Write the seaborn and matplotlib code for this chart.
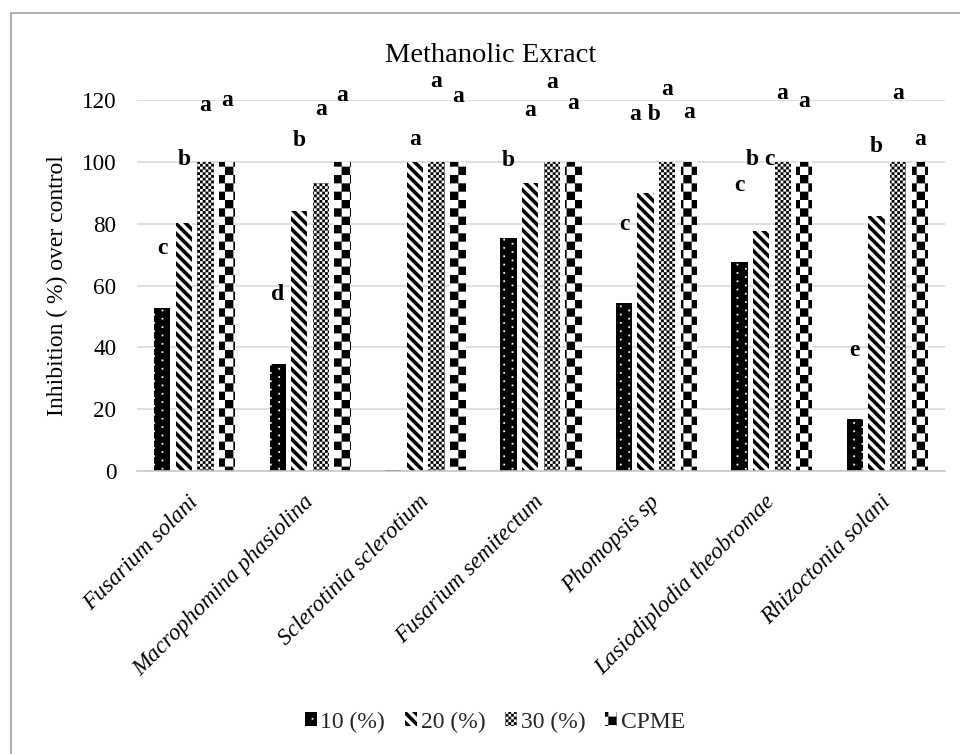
import numpy as np
import pandas as pd
import matplotlib
matplotlib.use("Agg")
import matplotlib.pyplot as plt
import matplotlib.hatch as mhatch
from matplotlib.path import Path
from matplotlib.patches import Rectangle
import seaborn as sns

# ---------------- data ----------------
fungi = ["Fusarium solani", "Macrophomina phasiolina", "Sclerotinia sclerotium",
         "Fusarium semitectum", "Phomopsis sp", "Lasiodiplodia theobromae",
         "Rhizoctonia solani"]
series = ["10 (%)", "20 (%)", "30 (%)", "CPME"]

conc_10 = [52.6, 34.5, 0.3, 75.4, 54.3, 67.7, 16.8]
conc_20 = [80.2, 84.2, 100.0, 93.0, 89.9, 77.5, 82.4]
conc_30 = [100.0, 93.1, 100.0, 100.0, 100.0, 100.0, 100.0]
cpme = [100.0, 100.0, 100.0, 100.0, 100.0, 100.0, 100.0]

letters_10 = ["c", "d", "", "b", "c", "c", "e"]
letters_20 = ["b", "b", "a", "a", "a b", "b c", "b"]
letters_30 = ["a", "a", "a", "a", "a", "a", "a"]
letters_cpme = ["a", "a", "a", "a", "a", "a", "a"]

label_y_10 = [72.0, 57.0, 0.0, 100.5, 79.7, 92.3, 39.0]
label_y_20 = [100.6, 107.0, 107.1, 116.5, 115.4, 100.9, 104.8]
label_y_30 = [118.1, 117.0, 125.9, 125.6, 123.4, 122.2, 122.2]
label_y_cpme = [119.9, 121.5, 121.0, 118.8, 115.9, 119.5, 107.1]

values = [conc_10, conc_20, conc_30, cpme]
letters = [letters_10, letters_20, letters_30, letters_cpme]
label_ys = [label_y_10, label_y_20, label_y_30, label_y_cpme]

df = pd.DataFrame({
    "fungus": np.repeat([fungi], len(series), axis=0).ravel(),
    "series": np.repeat(series, len(fungi)),
    "value": np.concatenate(values),
})

# ---------------- custom Excel-like fill patterns ----------------
def _rects(centers, hx, hy):
    verts, codes = [], []
    for cx, cy in centers:
        verts += [(cx - hx, cy - hy), (cx + hx, cy - hy), (cx + hx, cy + hy),
                  (cx - hx, cy + hy), (cx - hx, cy - hy)]
        codes += [Path.MOVETO, Path.LINETO, Path.LINETO, Path.LINETO, Path.CLOSEPOLY]
    return verts, codes


class _Custom(mhatch.HatchPatternBase):
    char = "?"

    def __init__(self, hatch, density):
        if hatch.count(self.char):
            self.v, self.c = self.build()
        else:
            self.v, self.c = [], []
        self.num_vertices = len(self.v)

    def set_vertices_and_codes(self, vertices, codes):
        vertices[:] = np.asarray(self.v, float)
        codes[:] = np.asarray(self.c, dtype=codes.dtype)


class Dots(_Custom):            # white dots on black
    char = "."

    def build(self):
        n = 12
        cs = [((k + 0.5) / n, (j + 0.25 + 0.5 * (k % 2)) / n)
              for k in range(n) for j in range(n)]
        return _rects(cs, 0.0085, 0.0085)


class Checker(_Custom):         # large checkerboard
    char = "O"
    n = 12

    def build(self):
        n = self.n
        cs = [((c + 0.5) / n, (r + 0.5) / n)
              for r in range(n) for c in range(n) if (r + c) % 2 == 0]
        return _rects(cs, 0.5 / n, 0.5 / n)


class SmallChecker(Checker):    # small checkerboard
    char = "*"
    n = 36


class Stripes(_Custom):         # wide downward diagonal
    char = "\\"

    def build(self):
        n = 10
        w = 0.5 / n
        verts, codes = [], []
        for k in range(-2, 2 * n + 3):
            c = k / n
            verts += [(-1, c + 1), (2, c - 2), (2, c + w - 2), (-1, c + w + 1), (-1, c + 1)]
            codes += [Path.MOVETO, Path.LINETO, Path.LINETO, Path.LINETO, Path.CLOSEPOLY]
        return verts, codes


mhatch._hatch_types[:] = [Dots, Stripes, SmallChecker, Checker]

# ---------------- figure ----------------
sns.set_style("white")
plt.rcParams["font.family"] = ["Liberation Serif", "DejaVu Serif"]
plt.rcParams["hatch.linewidth"] = 0.05

W, H = 960, 754
fig = plt.figure(figsize=(W / 100, H / 100), dpi=100)
ax = fig.add_axes([137 / W, 1 - 471 / H, 808 / W, 371 / H])

sns.barplot(data=df, x="fungus", y="value", hue="series", order=fungi,
            hue_order=series, palette=["black", "white", "white", "white"],
            width=0.75, gap=0.25, legend=False, ax=ax)

styles = [("black", "white", "."), ("white", "black", "\\"),
          ("white", "black", "*"), ("white", "black", "O")]
for cont, (fc, hc, hp) in zip(ax.containers, styles):
    for p in cont:
        p.set_facecolor(fc)
        p.set_edgecolor(hc)
        p.set_linewidth(0)
        p.set_hatch(hp)

# significance letters
for s, cont in enumerate(ax.containers):
    for i, p in enumerate(cont):
        lab = letters[s][i]
        if not lab:
            continue
        ax.text(p.get_x() + p.get_width() / 2, label_ys[s][i], lab,
                ha="center", va="center", fontsize=17, fontweight="bold",
                color="black", clip_on=False)

ax.set_ylim(0, 120)
ax.set_yticks(np.arange(0, 121, 20))
ax.yaxis.grid(True, color="#d9d9d9", linewidth=1.2)
ax.xaxis.grid(False)
ax.set_axisbelow(True)
for side in ["left", "right", "top"]:
    ax.spines[side].set_visible(False)
ax.spines["bottom"].set_color("#c8c8c8")
ax.spines["bottom"].set_linewidth(1.2)

ax.tick_params(axis="y", length=0, pad=15, labelsize=16.7, labelcolor="black")
ax.tick_params(axis="x", length=0, pad=20, labelsize=16.7, labelcolor="black")
ax.set_xticks(range(len(fungi)))
ax.set_xticklabels(fungi, rotation=45, ha="right", va="center",
                   rotation_mode="anchor", style="italic")
ax.set_xlabel("")
ax.set_ylabel("Inhibition ( %) over control", fontsize=17, color="black")
ax.yaxis.label.set_va("center")
ax.yaxis.set_label_coords((57 - 137) / 808, 0.5)

fig.text(491 / W, 1 - 55.5 / H, "Methanolic Exract", ha="center", va="center",
         fontsize=20.5, color="black")

fig.legend(handles=list(ax.containers), labels=series, loc="center",
           bbox_to_anchor=(495 / W, 1 - 722 / H), ncol=4, frameon=False,
           fontsize=17, handlelength=0.5, handleheight=0.5,
           handletextpad=0.15, columnspacing=0.85)

# chart-area border (top and left visible)
fig.add_artist(Rectangle((11 / W, -0.05), 1.2, 1.05 - 13 / H,
                         transform=fig.transFigure, fill=False,
                         edgecolor="#a0a0a0", linewidth=1.2))

fig.savefig("out.png", dpi=100)
